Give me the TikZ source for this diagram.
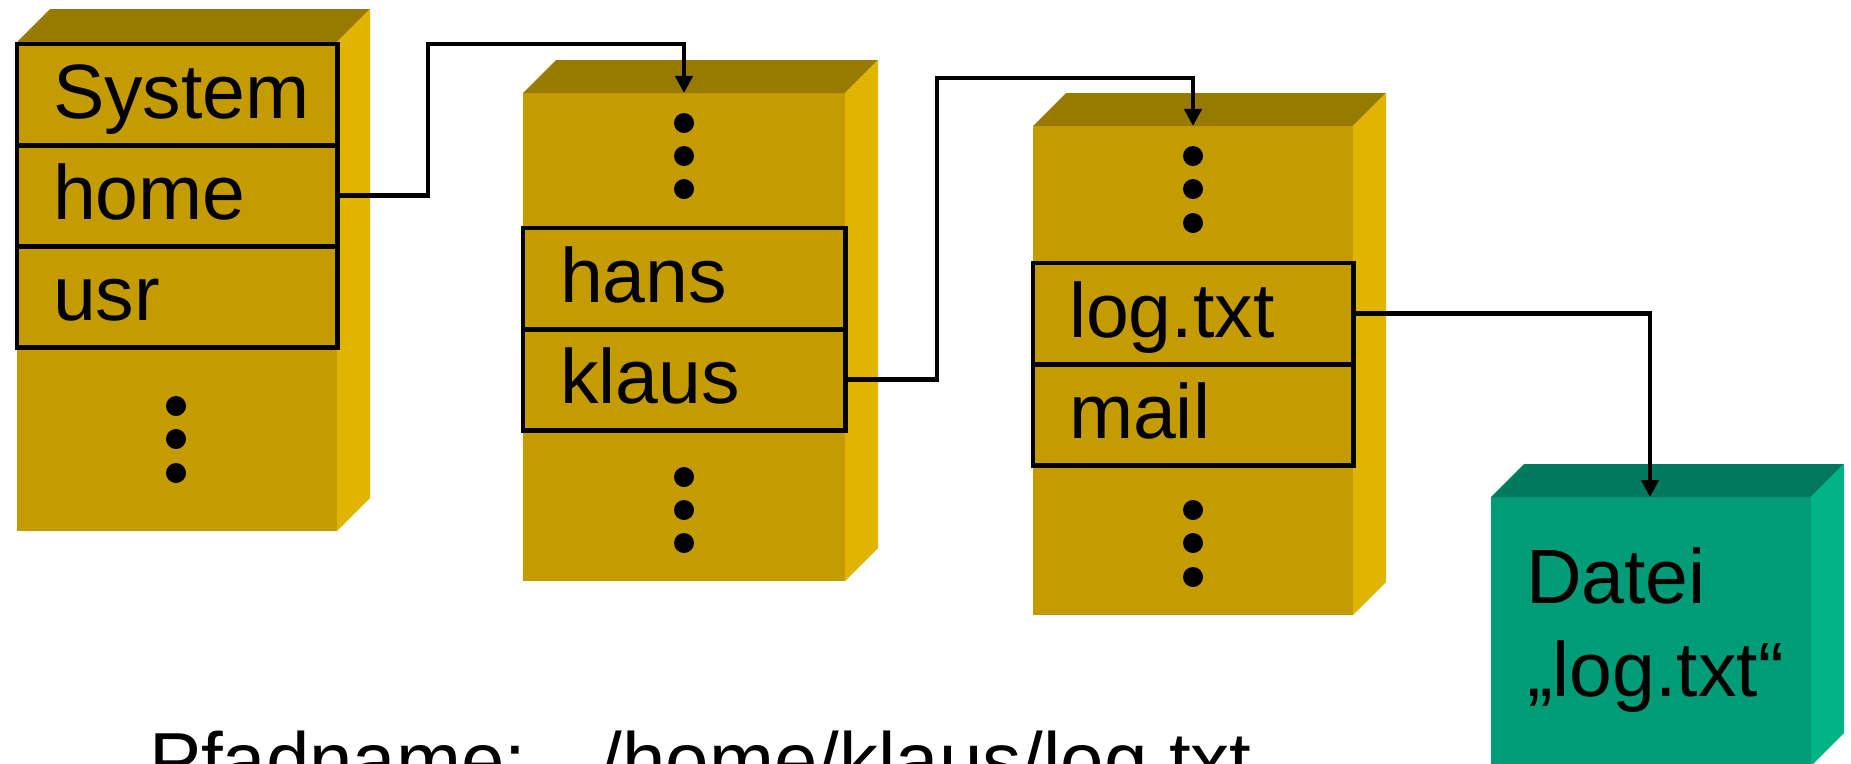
\documentclass[tikz,border=0pt]{standalone}
\usepackage{fontspec}
\setmainfont{Liberation Sans}
\usetikzlibrary{arrows.meta}

\definecolor{goldfront}{HTML}{C49C00}
\definecolor{goldtop}{HTML}{997A00}
\definecolor{goldside}{HTML}{E0B400}
\definecolor{greenfront}{HTML}{009B77}
\definecolor{greentop}{HTML}{007A5C}
\definecolor{greenside}{HTML}{00B386}

\tikzset{
  % a block seen slightly from above right: width, height, colour family
  pics/cuboid/.style n args={3}{code={
    \fill[#3front] (0,0) rectangle (#1,#2);
    \fill[#3top] (0,0) -- (33,-33) -- ({#1+33},-33) -- (#1,0) -- cycle;
    \fill[#3side] (#1,0) -- ({#1+33},-33) -- ({#1+33},{#2-33}) -- (#1,#2) -- cycle;
  }}
}

\begin{document}
\begin{tikzpicture}[x=0.01cm,y=-0.01cm,
  every node/.style={font=\fontsize{21.9}{26}\selectfont, inner sep=0pt, outer sep=0pt},
  slot/.style={draw=black, line width=1.4pt, minimum width=3.2cm, minimum height=1.01cm, anchor=north west},
  lbl/.style={anchor=base west},
  conn/.style={line width=1.3pt, -{Triangle[width=0.17cm,length=0.17cm]}}
]
\clip (0,0) rectangle (1851,763);

% directory blocks and the file block
\pic at (17,42)   {cuboid={320}{489}{gold}};
\pic at (523,93)  {cuboid={322}{488}{gold}};
\pic at (1033,126){cuboid={320}{489}{gold}};
\pic at (1491,497){cuboid={320}{269}{green}};

% root directory entries
\node[slot] (system) at (17,44)  {};
\node[slot] (home)   at (17,145) {};
\node[slot] (usr)    at (17,246) {};
\node[lbl] (tsystem) at (53,118) {System};
\node[lbl] (thome)   at (53,219) {home};
\node[lbl] (tusr)    at (53,320) {usr};
\foreach \y in {406,439,473} \fill (176,\y) circle[radius=0.1cm];

% /home entries
\node[slot, minimum width=3.22cm] (hans)  at (523,228) {};
\node[slot, minimum width=3.22cm] (klaus) at (523,329) {};
\node[lbl] (thans)  at (560,302) {hans};
\node[lbl] (tklaus) at (560,403) {klaus};
\foreach \y in {123,156,189,477,510,543} \fill (684,\y) circle[radius=0.1cm];

% /home/klaus entries
\node[slot] (logtxt) at (1033,263) {};
\node[slot] (mail)   at (1033,364) {};
\node[lbl] (tlogtxt) at (1069,337) {log.txt};
\node[lbl] (tmail)   at (1069,438) {mail};
\foreach \y in {156,189,223,510,543,577} \fill (1193,\y) circle[radius=0.1cm];

% file contents label
\node[lbl] (datei) at (1526,603) {Datei};
\node[lbl] (dname) at (1527,696) {„log.txt“};

% path name
\node[lbl, font=\fontsize{22.2}{26}\selectfont] (path) at (149,787)
  {Pfadname:\hspace{0.95em}/home/klaus/log.txt};

% links from entries to the blocks they refer to
\coordinate (bend1) at (428,44);
\coordinate (in2)   at (684,93);
\coordinate (bend2) at (937,78);
\coordinate (in3)   at (1193,126);
\coordinate (in4)   at (1650,497);
\draw[conn] (home.east)   -| (bend1) -| (in2);
\draw[conn] (klaus.east)  -| (bend2) -| (in3);
\draw[conn] (logtxt.east) -| (in4);
\end{tikzpicture}
\end{document}
